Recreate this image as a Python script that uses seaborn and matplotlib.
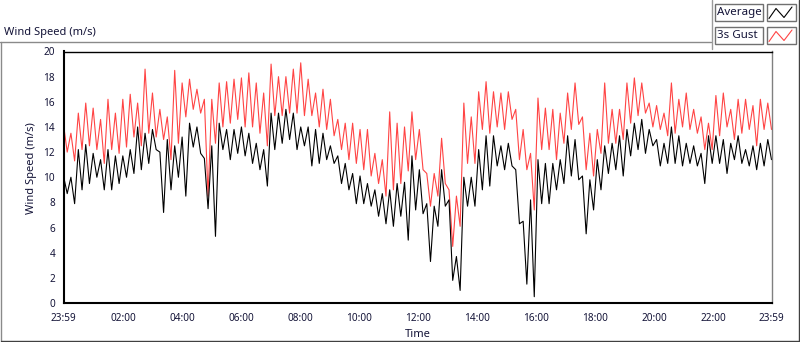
import numpy as np
import pandas as pd
import seaborn as sns
import matplotlib.pyplot as plt
from matplotlib.patches import Rectangle
from matplotlib.lines import Line2D
from matplotlib.ticker import MultipleLocator

# 15-minute bins from 23:59; high and low of each series
avg_hi = [10.1, 10.0, 12.2, 12.6, 11.9, 11.4, 12.2, 11.7, 11.7, 12.2, 14.0, 13.5,
          13.8, 12.0, 13.0, 12.5, 13.2, 14.3, 14.0, 11.5, 12.5, 14.3, 13.8, 13.8,
          14.0, 13.5, 12.7, 12.2, 15.1, 15.1, 15.4, 15.1, 14.0, 14.0, 13.8, 13.5,
          12.5, 11.7, 11.1, 10.3, 10.1, 9.5, 9.0, 8.7, 9.0, 9.5, 9.6, 11.7,
          10.6, 7.9, 7.7, 10.6, 8.2, 3.7, 10.0, 10.0, 12.2, 13.3, 13.3, 12.5,
          12.7, 10.6, 6.5, 8.2, 11.4, 11.1, 11.1, 11.4, 13.3, 13.0, 10.1, 9.8,
          11.4, 12.5, 12.7, 13.3, 13.8, 14.3, 14.6, 13.8, 13.0, 12.7, 14.0, 13.3,
          12.7, 12.5, 11.9, 13.3, 13.3, 13.0, 12.7, 13.3, 12.2, 12.5, 12.7, 13.0]
avg_lo = [8.7, 7.9, 9.0, 9.5, 10.0, 9.0, 9.0, 9.5, 10.0, 10.3, 10.6, 11.1,
          12.2, 7.2, 9.0, 10.0, 8.5, 12.4, 11.9, 7.5, 5.3, 12.2, 11.4, 11.9,
          11.7, 11.1, 10.6, 9.3, 12.2, 12.7, 13.0, 12.2, 12.5, 10.9, 11.1, 11.4,
          11.1, 9.5, 9.0, 7.9, 7.9, 7.7, 6.9, 6.3, 6.1, 6.9, 5.0, 7.4,
          7.1, 3.3, 6.1, 7.7, 1.8, 1.0, 7.7, 7.7, 9.0, 9.3, 10.9, 10.6,
          10.9, 6.3, 1.5, 0.5, 7.9, 7.9, 9.0, 9.5, 10.1, 9.8, 5.5, 7.4,
          9.0, 10.3, 10.6, 10.1, 11.7, 12.2, 11.9, 12.5, 10.9, 11.1, 11.1, 10.9,
          11.1, 10.9, 9.5, 11.1, 11.1, 10.3, 11.4, 11.1, 10.9, 10.6, 10.9, 11.4]
gust_hi = [14.2, 13.5, 15.1, 15.9, 15.5, 14.6, 16.2, 15.1, 16.2, 16.6, 15.9, 18.6,
           16.7, 15.4, 14.8, 18.5, 17.5, 17.8, 17.0, 16.2, 16.2, 17.5, 17.6, 17.8,
           17.9, 18.3, 17.5, 16.7, 19.0, 18.0, 18.0, 18.6, 19.1, 17.8, 16.7, 17.0,
           16.2, 14.6, 14.3, 14.3, 13.8, 13.8, 11.9, 11.4, 15.2, 14.3, 14.0, 15.2,
           13.8, 10.3, 10.3, 13.1, 9.0, 8.5, 15.9, 14.8, 16.8, 17.6, 16.8, 16.7,
           16.8, 15.4, 13.8, 11.9, 16.3, 15.5, 15.4, 15.1, 16.7, 17.5, 14.8, 13.5,
           13.8, 17.5, 15.4, 15.4, 17.5, 17.9, 17.5, 15.9, 15.7, 15.1, 17.5, 16.2,
           16.7, 15.4, 14.8, 14.3, 16.5, 16.7, 15.4, 16.2, 16.2, 15.7, 16.2, 15.9]
gust_lo = [12.0, 11.3, 12.2, 12.5, 12.2, 11.1, 12.2, 11.9, 12.4, 13.2, 12.5, 13.5,
           13.2, 13.0, 11.4, 12.7, 14.8, 15.4, 15.1, 8.5, 12.7, 14.0, 14.3, 14.6,
           14.0, 14.0, 13.5, 12.5, 14.9, 14.9, 15.1, 15.1, 14.9, 14.9, 14.0, 13.8,
           13.3, 12.2, 11.4, 11.1, 10.6, 10.1, 9.5, 8.5, 9.0, 9.5, 10.5, 11.4,
           10.6, 7.7, 8.5, 9.5, 4.5, 6.1, 11.1, 11.1, 13.8, 13.5, 14.0, 13.8,
           14.6, 11.4, 10.6, 7.4, 12.2, 12.2, 11.4, 12.7, 13.8, 14.2, 10.6, 10.1,
           11.9, 12.7, 12.7, 13.0, 14.3, 14.9, 15.1, 14.0, 13.8, 13.3, 13.5, 14.0,
           13.8, 13.5, 12.2, 12.2, 13.3, 14.0, 13.0, 13.5, 13.8, 12.5, 13.8, 13.8]

tick_hours = [0, 2 + 1 / 60, 4 + 1 / 60, 6 + 1 / 60, 8 + 1 / 60, 10 + 1 / 60, 12 + 1 / 60,
              14 + 1 / 60, 16 + 1 / 60, 18 + 1 / 60, 20 + 1 / 60, 22 + 1 / 60, 24]
tick_labels = ["23:59", "02:00", "04:00", "06:00", "08:00", "10:00", "12:00",
               "14:00", "16:00", "18:00", "20:00", "22:00", "23:59"]

W, H = 800, 342
TXT = "#141438"
RED = "#ff4444"


def zigzag(hi, lo):
    out = []
    for a, b in zip(hi, lo):
        out += [a, b]
    return out


hours = np.linspace(0, 24, 2 * len(avg_hi))
df = pd.concat([
    pd.DataFrame({"hours": hours, "speed": zigzag(gust_hi, gust_lo), "series": "3s Gust"}),
    pd.DataFrame({"hours": hours, "speed": zigzag(avg_hi, avg_lo), "series": "Average"}),
])

sns.set_style("white")
plt.rcParams["font.family"] = ["Noto Sans", "DejaVu Sans"]

fig = plt.figure(figsize=(W / 100, H / 100), dpi=100)
fig.patch.set_facecolor("white")
ax = fig.add_axes([63.5 / W, 1 - 303 / H, (771.5 - 63.5) / W, (303 - 51.5) / H])

sns.lineplot(data=df, x="hours", y="speed", hue="series",
             hue_order=["3s Gust", "Average"],
             palette={"3s Gust": RED, "Average": "black"},
             estimator=None, sort=False, linewidth=0.8, legend=False, ax=ax)

ax.set_xlim(0, 24)
ax.set_ylim(0, 20)
ax.set_xticks(tick_hours)
ax.set_xticklabels(tick_labels)
ax.xaxis.set_minor_locator(MultipleLocator(0.25))
ax.set_yticks(range(0, 21, 2))
ax.tick_params(axis="both", which="major", direction="out", length=5, width=1,
               color="black", labelsize=7.2, pad=2, labelcolor=TXT)
ax.tick_params(axis="x", which="minor", direction="out", length=3, width=1, color="black")
ax.tick_params(axis="y", which="major", length=4)

for side in ["left", "bottom"]:
    ax.spines[side].set_linewidth(1.5)
    ax.spines[side].set_color("black")
ax.spines["top"].set_linewidth(1.0)
ax.spines["top"].set_color("black")
ax.spines["right"].set_linewidth(1.0)
ax.spines["right"].set_color("#808080")

ax.set_xlabel("Time", fontsize=8, color=TXT)
ax.set_ylabel("Wind Speed (m/s)", fontsize=8, color=TXT)
ax.xaxis.set_label_coords(0.5, -0.104)
ax.yaxis.set_label_coords(-0.037, 0.535)


def px(x, y):
    return x / W, 1 - y / H


# outer panel frame
tf = fig.transFigure
fig.add_artist(Line2D([0, 711 / W], [1 - 42 / H] * 2, color="#8a8a8a", lw=1, transform=tf))
fig.add_artist(Line2D([1 / W] * 2, [1 - 42 / H, 1 - 340.5 / H], color="#8a8a8a", lw=1, transform=tf))
fig.add_artist(Line2D([1 / W, 798.5 / W], [1 - 340.5 / H] * 2, color="#404040", lw=1, transform=tf))
fig.add_artist(Line2D([798.5 / W] * 2, [1, 1 - 340.5 / H], color="#404040", lw=1, transform=tf))
fig.add_artist(Line2D([711.5 / W] * 2, [1, 1 - 49 / H], color="#9a9a9a", lw=1, transform=tf))

fig.text(4 / W, 1 - 32 / H, "Wind Speed (m/s)", fontsize=8, va="center", ha="left", color=TXT)

# legend
legend_rows = [("Average", "black", 4), ("3s Gust", RED, 27)]
for name, col, top in legend_rows:
    fig.add_artist(Rectangle(px(715, top + 16.5), 47.5 / W, 16.5 / H, transform=tf,
                             facecolor="white", edgecolor="#707070", lw=1))
    fig.add_artist(Rectangle(px(767, top + 16.5), 29 / W, 16.5 / H, transform=tf,
                             facecolor="white", edgecolor="#707070", lw=1))
    fig.text(717 / W, 1 - (top + 8.5) / H, name, fontsize=8.3, va="center", ha="left", color=TXT)
    xs = [769, 776, 784, 792]
    ys = [top + 14.5, top + 4.5, top + 13.5, top + 3]
    fig.add_artist(Line2D([x / W for x in xs], [1 - y / H for y in ys],
                          color=col, lw=0.8, transform=tf))

fig.savefig("out.png", dpi=100)
